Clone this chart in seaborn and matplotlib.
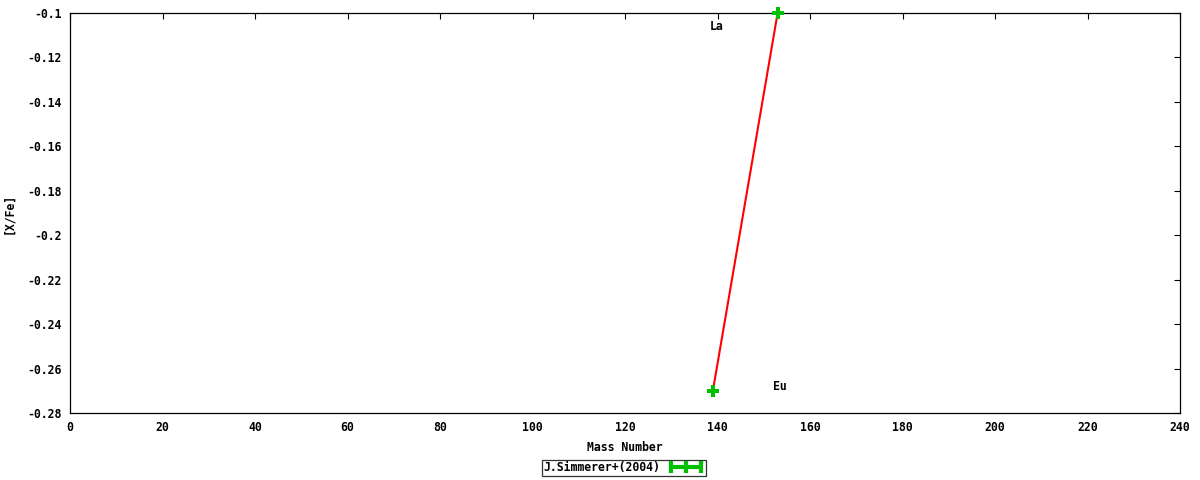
import matplotlib
matplotlib.use("Agg")
import matplotlib.pyplot as plt
import seaborn as sns
import pandas as pd
from matplotlib.lines import Line2D

# data
elements = ["La", "Eu"]
mass_number = [139, 153]
x_fe = [-0.27, -0.1]
label_x = [139.8, 153.5]
label_y = [-0.106, -0.268]
series_name = "J.Simmerer+(2004)"

xticks = list(range(0, 241, 20))
yticks = [-0.28, -0.26, -0.24, -0.22, -0.2, -0.18, -0.16, -0.14, -0.12, -0.1]

df = pd.DataFrame({"element": elements, "mass": mass_number, "xfe": x_fe})

sns.set_style("white")
plt.rcParams["font.family"] = ["DejaVu Sans Mono"]
plt.rcParams["font.weight"] = "bold"
plt.rcParams["font.size"] = 8
plt.rcParams["text.color"] = "black"
plt.rcParams["axes.labelcolor"] = "black"

fig, ax = plt.subplots(figsize=(12, 4.8), dpi=100)
fig.subplots_adjust(left=70 / 1200, right=1180 / 1200, top=1 - 13 / 480, bottom=1 - 413 / 480)

green = "#00c000"
sns.lineplot(data=df, x="mass", y="xfe", color="#ff0000", linewidth=1.5, ax=ax,
             legend=False, sort=False, zorder=2)
sns.scatterplot(data=df, x="mass", y="xfe", color=green, marker="P", s=70,
                linewidth=0, ax=ax, legend=False, zorder=3, clip_on=False)

for name, lx, ly in zip(elements, label_x, label_y):
    ax.text(lx, ly, name, ha="center", va="center", fontsize=8.3, fontweight="bold",
            color="black")

ax.set_xlim(0, 240)
ax.set_ylim(-0.28, -0.1)
ax.set_xticks(xticks)
ax.set_yticks(yticks)
ax.set_yticklabels(["%g" % v for v in yticks])
ax.tick_params(direction="in", length=4.5, width=0.8, top=True, right=True,
               labelsize=8.3, pad=6, colors="black")
for sp in ax.spines.values():
    sp.set_color("black")
    sp.set_linewidth(0.9)

ax.set_xlabel("Mass Number", fontsize=8.3, fontweight="bold", labelpad=5)
ax.set_ylabel("[X/Fe]", fontsize=8.3, fontweight="bold", labelpad=9)

handle = Line2D([0], [0], color=green, linewidth=3, marker="|", markersize=9,
                markeredgewidth=3)
leg = fig.legend([handle], [series_name], loc="center", bbox_to_anchor=(0.52, 0.025),
                 frameon=True, fancybox=False, markerfirst=False, numpoints=3,
                 handlelength=3.2, borderpad=0.15, handletextpad=0.6,
                 borderaxespad=0, prop={"family": "DejaVu Sans Mono", "weight": "bold", "size": 8.3})
leg.get_frame().set_edgecolor("black")
leg.get_frame().set_linewidth(0.9)

fig.savefig("out.png", dpi=100)
